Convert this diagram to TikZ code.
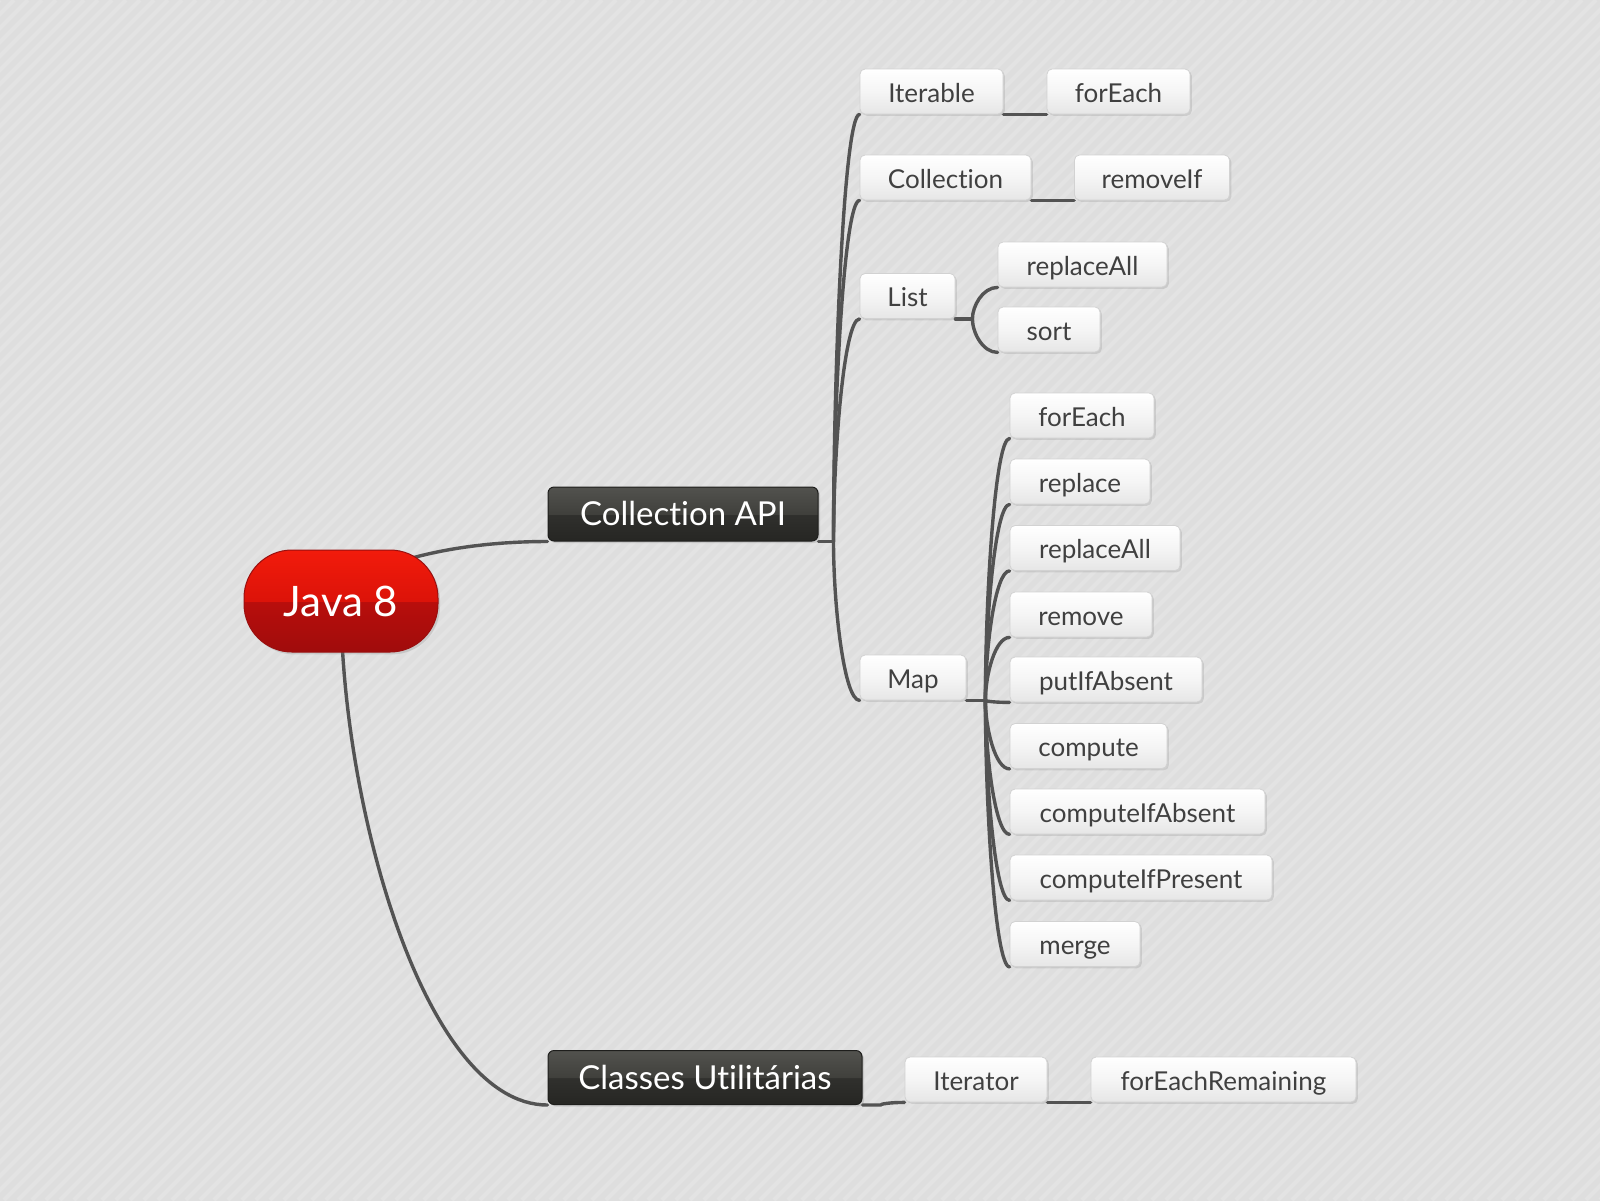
\documentclass[tikz,border=0pt]{standalone}
\usepackage{fontspec}
\setmainfont{Lato}[Ligatures={NoCommon,NoRare,NoContextual}]
\usetikzlibrary{calc,shadows}
\definecolor{bgc}{HTML}{DEDEDE}
\definecolor{stripe}{HTML}{E3E3E3}
\definecolor{edgec}{HTML}{535353}
\definecolor{txtc}{HTML}{404040}
\definecolor{lbA}{HTML}{FFFFFF}
\definecolor{lbB}{HTML}{F5F5F5}
\definecolor{lbC}{HTML}{E6E6E6}
\definecolor{lbborder}{HTML}{D2D2D2}
\definecolor{dbA}{HTML}{52524E}
\definecolor{dbB}{HTML}{40403C}
\definecolor{dbC}{HTML}{30302D}
\definecolor{dbD}{HTML}{262623}
\definecolor{dbborder}{HTML}{1E1E1C}
\definecolor{rA}{HTML}{F21B0B}
\definecolor{rB}{HTML}{DC1309}
\definecolor{rC}{HTML}{B80E0C}
\definecolor{rD}{HTML}{A00C0C}
\definecolor{rborder}{HTML}{9A1010}
\pgfdeclareverticalshading{lightbox}{100bp}{color(0bp)=(lbC); color(25bp)=(lbC); color(50bp)=(lbB); color(75bp)=(lbA); color(100bp)=(lbA)}
\pgfdeclareverticalshading{darkbox}{100bp}{color(0bp)=(dbD); color(25bp)=(dbD); color(49.5bp)=(dbC); color(50bp)=(dbB); color(75bp)=(dbA); color(100bp)=(dbA)}
\pgfdeclareverticalshading{redbox}{100bp}{color(0bp)=(rD); color(25bp)=(rD); color(49.5bp)=(rC); color(50bp)=(rB); color(75bp)=(rA); color(100bp)=(rA)}
\pgfdeclarelayer{bgfill}
\pgfdeclarelayer{edges}
\pgfsetlayers{bgfill,edges,main}
\tikzset{
  leaf/.style={rounded corners=2.5pt, shading=lightbox, draw=lbborder, line width=0.4pt,
    minimum width={(#1)*0.5pt}, minimum height=22.5pt, inner sep=0pt,
    text height=12pt, text depth=1.5pt,
    font=\fontsize{13}{15}\selectfont, text=txtc,
    drop shadow={shadow xshift=0.9pt, shadow yshift=-0.9pt, opacity=0.22}},
  midbox/.style={rounded corners=3pt, shading=darkbox, draw=dbborder, line width=0.5pt,
    minimum width={(#1)*0.5pt}, minimum height=27pt, inner sep=0pt,
    text height=13.2pt, text depth=1.4pt,
    font=\fontsize{16.5}{19}\selectfont, text=white,
    drop shadow={shadow xshift=1pt, shadow yshift=-1pt, opacity=0.25}},
  rootbox/.style={rounded corners=24pt, shading=redbox, draw=rborder, line width=0.5pt,
    minimum width=97pt, minimum height=51pt, inner sep=0pt,
    text height=16pt, text depth=1pt,
    font=\fontsize{21}{24}\selectfont, text=white,
    drop shadow={shadow xshift=1pt, shadow yshift=-1.2pt, opacity=0.25}},
  edge/.style={draw=edgec, line width=1.7pt, line cap=round},
  mm/.style={to path={.. controls ($(\tikztostart)!0.4!(\tikztostart|-\tikztotarget)$) and ($(\tikztostart|-\tikztotarget)!0.4!(\tikztotarget)$) .. (\tikztotarget)}}
}
\begin{document}
\begin{tikzpicture}[x=0.5pt,y=-0.5pt]
\useasboundingbox (0,0) rectangle (1600,1200);
\begin{pgfonlayer}{bgfill}
\fill[bgc] (-2,-2) rectangle (1602,1202);
\begin{scope}
\clip (0,0) rectangle (1600,1200);
\foreach \s in {-1200,-1186,...,1600} \draw[stripe, line width=2pt] (\s,1200) -- ++(1200,-1200);
\end{scope}
\end{pgfonlayer}

% nodes
\node[rootbox] (root) at (341,601) {Java 8};
\node[midbox=270] (capi) at (683,514) {Collection API};
\node[midbox=314] (cls) at (705,1077.5) {Classes Utilitárias};

\node[leaf=143] (iter) at (931.5,91.5) {Iterable};
\node[leaf=143] (fe1) at (1118.5,91.5) {forEach};
\node[leaf=171] (coll) at (945.5,177.5) {Collection};
\node[leaf=155] (rmif) at (1152,177.5) {removeIf};
\node[leaf=95] (list) at (907.5,296) {List};
\node[leaf=169] (ra1) at (1082.5,264.5) {replaceAll};
\node[leaf=102] (sort) at (1049,329.5) {sort};
\node[leaf=106] (map) at (913,677.5) {Map};

\node[leaf=144] (fe2) at (1082,415.5) {forEach};
\node[leaf=140] (repl) at (1080,481.5) {replace};
\node[leaf=170] (ra2) at (1095,548) {replaceAll};
\node[leaf=142] (rem) at (1081,614.5) {remove};
\node[leaf=192] (pia) at (1106,679.5) {putIfAbsent};
\node[leaf=157] (comp) at (1088.5,746) {compute};
\node[leaf=255] (cia) at (1137.5,811.5) {computeIfAbsent};
\node[leaf=262] (cip) at (1141,877.5) {computeIfPresent};
\node[leaf=130] (merge) at (1075,944) {merge};

\node[leaf=142] (itr) at (976,1079.5) {Iterator};
\node[leaf=265] (fer) at (1223.5,1079.5) {forEachRemaining};

% junctions
\coordinate (jC) at ($(capi.south east)+(15,0)$);
\coordinate (jL) at ($(list.south east)+(17,0)$);
\coordinate (jM) at ($(map.south east)+(19,0)$);
\coordinate (jU) at ($(cls.south east)+(18,0)$);

% edges
\begin{pgfonlayer}{edges}
\draw[edge] (root.center) to[mm] (capi.south west);
\draw[edge] (root.center) to[mm] (cls.south west);
\draw[edge] (capi.south east) -- (jC);
\foreach \n in {iter,coll,list,map} \draw[edge] (jC) to[mm] (\n.south west);
\draw[edge] (iter.south east) -- (fe1.south west);
\draw[edge] (coll.south east) -- (rmif.south west);
\draw[edge] (list.south east) -- (jL);
\foreach \n in {ra1,sort} \draw[edge] (jL) to[mm] (\n.south west);
\draw[edge] (map.south east) -- (jM);
\foreach \n in {fe2,repl,ra2,rem,pia,comp,cia,cip,merge} \draw[edge] (jM) to[mm] (\n.south west);
\draw[edge] (cls.south east) -- (jU) to[mm] (itr.south west);
\draw[edge] (itr.south east) -- (fer.south west);
\end{pgfonlayer}
\end{tikzpicture}
\end{document}
